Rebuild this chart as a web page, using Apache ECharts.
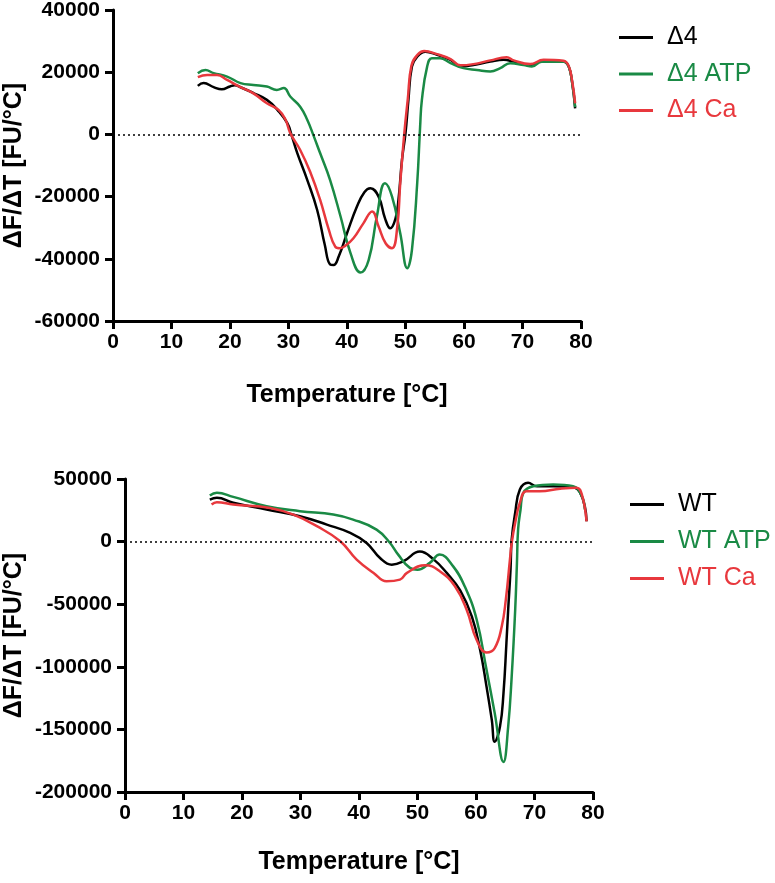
<!DOCTYPE html>
<html>
<head>
<meta charset="utf-8">
<script src="https://cdn.jsdelivr.net/npm/echarts@6/dist/echarts.min.js"></script>
<style>
html,body{margin:0;padding:0;background:#fff;}
#chart{width:775px;height:883px;}
</style>
</head>
<body>
<div id="chart"></div>
<script>
// ---------- data ----------
var xTicks = [0, 10, 20, 30, 40, 50, 60, 70, 80];
var topNames = ['\u03944', '\u03944 ATP', '\u03944 Ca'];
var bottomNames = ['WT', 'WT ATP', 'WT Ca'];

var d4 = [[14.5,15600],[15.5,16500],[17.2,15200],[18.6,14500],[20,15400],[20.8,15800],[22,15000],[24,13300],[26.3,11100],[28.1,7900],[29.8,3600],[30.6,-700],[31.5,-6000],[33.2,-14600],[34.9,-24300],[36.2,-35500],[37.1,-41800],[37.7,-42000],[38.6,-39200],[40,-31800],[41.7,-23200],[43,-18500],[44,-17300],[45.4,-20000],[46.5,-27000],[47.4,-30200],[48.3,-27000],[48.8,-21000],[49.4,-8200],[50,400],[50.5,11100],[51.1,21800],[52,25000],[53.4,26600],[55.4,25600],[57.7,24000],[59.4,21800],[61.6,22300],[64.5,23400],[66.8,24000],[68.5,23400],[71.3,22300],[73.6,23700],[77,23400],[77.9,21800],[78.5,16500],[79,8400]];
var d4ATP = [[14.5,19700],[15.8,20700],[17.2,19700],[19.5,18600],[21.8,16500],[24,15900],[26.3,15400],[28,14300],[29.2,14900],[30.3,12200],[32,8900],[33.2,4700],[34.2,0],[35.4,-6000],[37.1,-14600],[38.9,-26400],[40.6,-38200],[42.3,-44400],[43.7,-40400],[45.1,-26400],[46.5,-15700],[47.7,-20000],[49.1,-31800],[50.3,-43000],[51.1,-37100],[52,-15700],[52.5,2500],[52.8,11100],[53.7,21800],[54.5,24500],[55.9,24500],[57.7,22900],[59.9,21300],[62.2,20700],[64.5,20200],[66.2,21300],[67.9,22900],[70.2,22300],[71.6,21800],[73.3,23400],[77,23400],[77.9,21800],[78.5,16500],[79,8800]];
var d4Ca = [[14.5,18400],[16.1,19100],[17.8,19100],[19.5,17500],[21.8,15200],[24,13200],[26.3,10000],[28.3,7900],[29.5,4700],[30.3,400],[32,-5000],[33.7,-12000],[35.4,-21000],[36.9,-30700],[38,-36100],[38.8,-36600],[39.6,-36000],[41.1,-33400],[42.8,-28600],[44.3,-24800],[45.4,-29600],[46.6,-35000],[47.7,-36600],[48.6,-29600],[49.1,-15700],[49.8,400],[50.4,11500],[51,22000],[52,25500],[53.2,26800],[55.4,25800],[57.7,24200],[59.4,22200],[61.6,22600],[64.5,23800],[67.3,24800],[68.5,23800],[71.3,22600],[73.6,24000],[77,23700],[77.9,22000],[78.5,17000],[79,10000]];

var wt = [[14.5,33600],[15.7,35000],[18.5,31000],[24.2,25600],[29.9,20300],[34.5,13600],[38.5,7000],[41.3,-1100],[43.6,-13100],[45.6,-18400],[47.6,-15700],[50.4,-8000],[52.7,-14000],[55,-25000],[57.3,-39000],[59.3,-60000],[60.7,-86400],[61.8,-115800],[62.7,-142400],[63.2,-159800],[64.1,-147800],[64.7,-121000],[65.2,-81000],[65.5,-54400],[65.9,-22400],[66.1,1600],[66.7,23000],[67.5,41600],[68.9,47000],[70.4,44200],[73.2,44200],[76.9,43000],[77.8,39000],[78.6,28200],[78.9,16200]];
var wtATP = [[14.5,36800],[15.7,39000],[18.5,35700],[24.2,28300],[29.9,24300],[35.6,21600],[39,17600],[43,9600],[45.3,-1100],[46.7,-10400],[48.7,-21000],[50,-22500],[52.1,-17000],[53.8,-10400],[56.1,-19800],[58.1,-36000],[60.1,-62000],[61.8,-102400],[63.2,-137000],[64.7,-176000],[65.5,-147800],[66.1,-107800],[66.7,-54400],[67,-17000],[67.2,10000],[67.6,25000],[68.1,39000],[69.8,44200],[73.2,45600],[76.6,44200],[78.1,36200],[78.6,25600]];
var wtCa = [[14.8,29600],[15.7,31500],[18.5,29600],[24.8,26900],[28.8,21600],[32.8,12300],[36.8,300],[39.6,-14400],[42.5,-25000],[44.7,-31700],[47,-30400],[48.2,-25000],[51.3,-18800],[53.8,-23700],[56.4,-35700],[58.4,-54400],[60.1,-78400],[61.8,-88500],[63.2,-85000],[64.4,-67800],[65.1,-46400],[65.8,-14400],[66.1,-1100],[66.7,15000],[67.5,31000],[68.6,40200],[70.9,40200],[74.4,42200],[77.2,43000],[78.1,37600],[78.9,16200]];

var colors = ['#000000', '#1a8a45', '#e8383d'];

// ---------- chart ----------
var FONT = '"Liberation Sans", Arial, sans-serif';
function xAxis(gridIndex, gap) {
  return {
    type: 'value', gridIndex: gridIndex, min: 0, max: 80, interval: 10,
    name: 'Temperature [\u00b0C]', nameLocation: 'middle', nameGap: gap, nameMoveOverlap: false,
    nameTextStyle: {fontFamily: FONT, fontWeight: 'bold', fontSize: 25, color: '#000'},
    axisLine: {onZero: false, lineStyle: {color: '#000', width: 3}},
    axisTick: {length: 8, lineStyle: {color: '#000', width: 3}},
    axisLabel: {fontFamily: FONT, fontWeight: 'bold', fontSize: 21, color: '#000', margin: 11,
      formatter: function (v) { return xTicks.indexOf(v) >= 0 ? String(v) : ''; }},
    splitLine: {show: false}
  };
}
function yAxis(gridIndex, min, max, interval, gap) {
  return {
    type: 'value', gridIndex: gridIndex, min: min, max: max, interval: interval,
    name: '\u0394F/\u0394T [FU/\u00b0C]', nameLocation: 'middle', nameGap: gap, nameRotate: 90,
    nameMoveOverlap: false,
    nameTextStyle: {fontFamily: FONT, fontWeight: 'bold', fontSize: 25, color: '#000'},
    axisLine: {onZero: false, lineStyle: {color: '#000', width: 3}},
    axisTick: {length: 8, lineStyle: {color: '#000', width: 3}},
    axisLabel: {fontFamily: FONT, fontWeight: 'bold', fontSize: 21, color: '#000', margin: 13,
      formatter: function (v) { return String(v); }},
    splitLine: {show: false}
  };
}
function line(name, data, color, axisIndex, withZero) {
  var s = {
    name: name, type: 'line', data: data, xAxisIndex: axisIndex, yAxisIndex: axisIndex,
    showSymbol: false, symbol: 'none', smooth: 0.45, animation: false,
    lineStyle: {color: color, width: 2.5}, itemStyle: {color: color}, z: 3
  };
  if (withZero) {
    s.markLine = {
      silent: true, symbol: ['none', 'none'], label: {show: false}, animation: false,
      lineStyle: {color: '#000', type: [2, 3], width: 1.5},
      data: [{yAxis: 0}]
    };
  }
  return s;
}
function legend(names, left, top, gap) {
  return {
    orient: 'vertical', left: left, top: top, itemWidth: 34, itemHeight: 3, itemGap: gap,
    icon: 'rect',
    data: names.map(function (n, i) {
      return {name: n, textStyle: {color: colors[i]}};
    }),
    textStyle: {fontFamily: FONT, fontSize: 25, lineHeight: 24, padding: [0, 0, 0, 9]}
  };
}

var chart = echarts.init(document.getElementById('chart'), null, {renderer: 'canvas'});
chart.setOption({
  backgroundColor: '#fff',
  animation: false,
  grid: [
    {left: 113, top: 10, width: 468, height: 311, containLabel: false, outerBoundsMode: 'none'},
    {left: 125, top: 479, width: 468, height: 313, containLabel: false, outerBoundsMode: 'none'}
  ],
  xAxis: [xAxis(0, 62), xAxis(1, 58)],
  yAxis: [yAxis(0, -60000, 40000, 20000, 86), yAxis(1, -200000, 50000, 50000, 98)],
  legend: [legend(topNames, 614, 20, 11.5), legend(bottomNames, 625, 487, 12)],
  series: [
    line(topNames[0], d4, colors[0], 0, true),
    line(topNames[1], d4ATP, colors[1], 0, false),
    line(topNames[2], d4Ca, colors[2], 0, false),
    line(bottomNames[0], wt, colors[0], 1, true),
    line(bottomNames[1], wtATP, colors[1], 1, false),
    line(bottomNames[2], wtCa, colors[2], 1, false)
  ]
});
</script>
</body>
</html>
